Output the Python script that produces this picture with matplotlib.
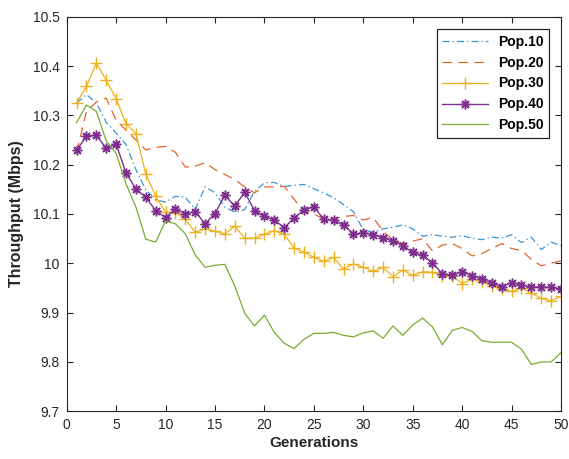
import matplotlib
matplotlib.use("Agg")
import matplotlib.pyplot as plt
import numpy as np

plt.rcParams['font.family'] = ['Liberation Sans', 'DejaVu Sans']
plt.rcParams['lines.scale_dashes'] = False

generations = list(range(1, 51))

pop10 = [10.325, 10.342, 10.325, 10.286, 10.264, 10.241, 10.190, 10.149, 10.129, 10.124,
         10.136, 10.134, 10.109, 10.155, 10.143, 10.114, 10.104, 10.109, 10.146, 10.163,
         10.164, 10.156, 10.158, 10.160, 10.151, 10.143, 10.133, 10.119, 10.105, 10.068,
         10.063, 10.070, 10.073, 10.078, 10.070, 10.055, 10.058, 10.055, 10.053, 10.056,
         10.051, 10.048, 10.053, 10.051, 10.058, 10.042, 10.053, 10.028, 10.043, 10.036]

pop20 = [10.225, 10.308, 10.327, 10.335, 10.290, 10.270, 10.250, 10.230, 10.235, 10.237,
         10.225, 10.195, 10.197, 10.204, 10.190, 10.180, 10.170, 10.155, 10.143, 10.155,
         10.155, 10.156, 10.130, 10.105, 10.100, 10.090, 10.090, 10.095, 10.097, 10.088,
         10.093, 10.065, 10.047, 10.040, 10.045, 10.050, 10.025, 10.037, 10.040, 10.030,
         10.015, 10.020, 10.030, 10.040, 10.030, 10.026, 10.008, 9.995, 10.000, 10.005]

pop30 = [10.325, 10.359, 10.406, 10.371, 10.334, 10.283, 10.263, 10.181, 10.136, 10.104,
         10.103, 10.089, 10.063, 10.070, 10.065, 10.060, 10.075, 10.051, 10.051, 10.059,
         10.066, 10.059, 10.031, 10.023, 10.012, 10.004, 10.012, 9.988, 9.999, 9.992,
         9.984, 9.992, 9.973, 9.986, 9.976, 9.983, 9.982, 9.975, 9.975, 9.959,
         9.968, 9.963, 9.954, 9.948, 9.943, 9.950, 9.940, 9.929, 9.924, 9.933]

pop40 = [10.229, 10.258, 10.260, 10.233, 10.242, 10.183, 10.151, 10.134, 10.107, 10.092,
         10.111, 10.100, 10.105, 10.080, 10.101, 10.138, 10.116, 10.144, 10.107, 10.095,
         10.088, 10.072, 10.092, 10.108, 10.115, 10.089, 10.087, 10.078, 10.059, 10.062,
         10.058, 10.052, 10.045, 10.036, 10.022, 10.016, 10.001, 9.979, 9.976, 9.983,
         9.975, 9.968, 9.961, 9.952, 9.961, 9.956, 9.952, 9.952, 9.951, 9.948]

pop50 = [10.285, 10.321, 10.308, 10.248, 10.223, 10.161, 10.114, 10.049, 10.043, 10.086,
         10.080, 10.060, 10.017, 9.992, 9.996, 9.998, 9.954, 9.899, 9.873, 9.895,
         9.860, 9.838, 9.827, 9.846, 9.858, 9.858, 9.860, 9.854, 9.851, 9.859,
         9.863, 9.848, 9.873, 9.854, 9.875, 9.889, 9.871, 9.835, 9.864, 9.870,
         9.862, 9.843, 9.840, 9.840, 9.840, 9.826, 9.795, 9.800, 9.800, 9.819]

labels = ['Pop.10', 'Pop.20', 'Pop.30', 'Pop.40', 'Pop.50']
xticks = [0, 5, 10, 15, 20, 25, 30, 35, 40, 45, 50]
yticks = [9.7, 9.8, 9.9, 10.0, 10.1, 10.2, 10.3, 10.4, 10.5]
ytick_labels = ['9.7', '9.8', '9.9', '10', '10.1', '10.2', '10.3', '10.4', '10.5']

fig = plt.figure(figsize=(5.69, 4.59), dpi=100)
ax = fig.add_axes([66.7/569, 1 - 411.3/459, (561 - 66.7)/569, (411.3 - 16.7)/459])

ax.plot(generations, pop10, color='#3a94d8', lw=0.9, dashes=(5, 2.2, 1, 2.2), label=labels[0])
ax.plot(generations, pop20, color='#E0662E', lw=0.9, dashes=(7, 4.5), label=labels[1])
ax.plot(generations, pop30, color='#EDB120', lw=0.9, marker='+', ms=8, mew=1.0, label=labels[2])
ax.plot(generations, pop40, color='#7E2F8E', lw=1.0, marker=(8, 2, 0), ms=7, mew=1.1, label=labels[3])
ax.plot(generations, pop50, color='#77AC30', lw=0.9, label=labels[4])

ax.set_xlim(0, 50)
ax.set_ylim(9.7, 10.5)
ax.set_xticks(xticks)
ax.set_yticks(yticks)
ax.set_yticklabels(ytick_labels)
ax.tick_params(direction='in', length=4, width=0.8, top=True, right=True,
               labelsize=10, colors='#262626', pad=5)
for s in ax.spines.values():
    s.set_color('#262626')
    s.set_linewidth(0.8)

ax.set_xlabel('Generations', fontsize=11, fontweight='bold', color='#262626', labelpad=3)
ax.set_ylabel('Throughput (Mbps)', fontsize=11.5, fontweight='bold', color='#262626', labelpad=6)

leg = ax.legend(loc='upper left', bbox_to_anchor=(436.7/569, 1 - 29/459),
                bbox_transform=fig.transFigure, fancybox=False, framealpha=1,
                edgecolor='#262626', prop={'weight': 'bold', 'size': 10},
                handlelength=3.3, handletextpad=0.7, labelspacing=0.5,
                borderpad=0.4, borderaxespad=0)
leg.get_frame().set_linewidth(0.9)

fig.savefig('out.png', dpi=100)
